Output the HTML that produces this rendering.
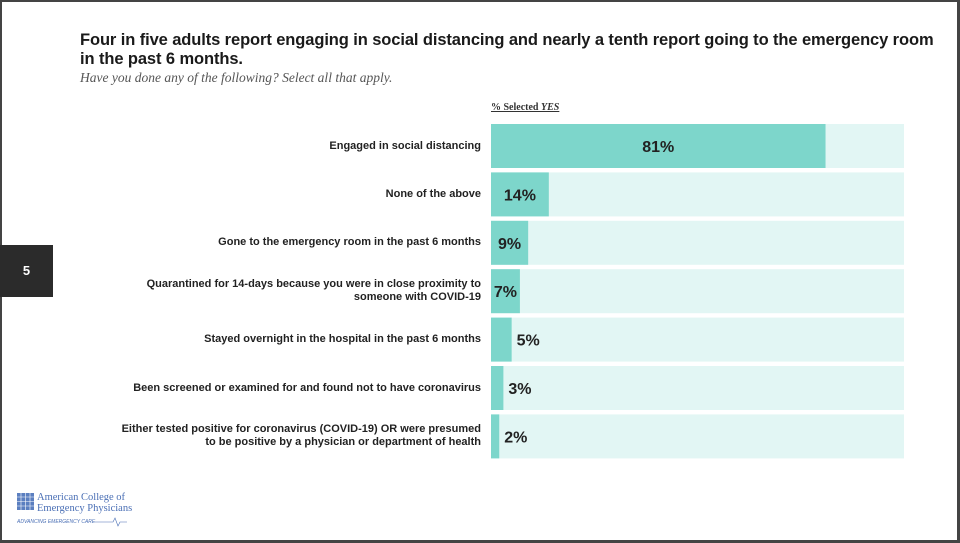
<!DOCTYPE html>
<html><head><meta charset="utf-8"><style>
body{margin:0;width:960px;height:543px;overflow:hidden;background:#fff;font-family:"Liberation Sans",Arial,sans-serif}
#frame{position:absolute;left:0;top:0;width:960px;height:543px;box-sizing:border-box;border:2px solid #444;border-right-width:3px;border-bottom-width:3px}
#title{position:absolute;left:80px;top:31px;width:870px;font-size:16.5px;font-weight:bold;line-height:19px;color:#1a1a1a;letter-spacing:-0.1px}
#sub{position:absolute;left:80px;top:70px;font-family:"Liberation Serif",serif;font-style:italic;font-size:13.5px;color:#555}
#hdr{position:absolute;left:491px;top:102px;font-family:"Liberation Serif",serif;font-weight:bold;font-size:10px;color:#333;text-decoration:underline}
#page{position:absolute;left:0;top:245px;width:53px;height:52px;background:#2b2b2b;color:#fff;font-weight:bold;font-size:13px;text-align:center;line-height:52px}
.lbl{position:absolute;right:479px;font-size:11px;font-weight:bold;color:#222;text-align:right;line-height:13px}
#logo{position:absolute;left:17px;top:489px}
</style></head><body>
<div id="frame"></div>
<div id="title">Four in five adults report engaging in social distancing and nearly a tenth report going to the emergency room in the past 6 months.</div>
<div id="sub">Have you done any of the following? Select all that apply.</div>
<div id="hdr">% Selected <i>YES</i></div>
<div id="page">5</div>
<div id="labels"></div>
<svg id="chart" width="960" height="543" style="position:absolute;left:0;top:0"></svg>
<div id="logo">
<svg width="130" height="42">
<rect x="0" y="4" width="17" height="17" fill="#5b7fc0"/>
<g stroke="#fff" stroke-width="0.6"><line x1="0" y1="8" x2="17" y2="8"/><line x1="0" y1="12.5" x2="17" y2="12.5"/><line x1="0" y1="17" x2="17" y2="17"/><line x1="4" y1="4" x2="4" y2="21"/><line x1="8.5" y1="4" x2="8.5" y2="21"/><line x1="13" y1="4" x2="13" y2="21"/></g>
<text x="20" y="11" font-family="Liberation Serif,serif" font-size="10.5" fill="#4a6fb5">American College of</text>
<text x="20" y="22" font-family="Liberation Serif,serif" font-size="10.5" fill="#4a6fb5">Emergency Physicians</text>
<text x="0" y="34" font-family="Liberation Sans,sans-serif" font-size="5" font-style="italic" fill="#4a6fb5">ADVANCING EMERGENCY CARE</text>
<polyline points="78,33 96,33 98,29 101,37 103,33 110,33" fill="none" stroke="#4a6fb5" stroke-width="0.6"/>
</svg></div>
<script>
const categories=["Engaged in social distancing","None of the above","Gone to the emergency room in the past 6 months","Quarantined for 14-days","Stayed overnight in the hospital in the past 6 months","Been screened or examined for and found not to have coronavirus","Either tested positive"];
const labelLines=[["Engaged in social distancing"],["None of the above"],["Gone to the emergency room in the past 6 months"],["Quarantined for 14-days because you were in close proximity to","someone with COVID-19"],["Stayed overnight in the hospital in the past 6 months"],["Been screened or examined for and found not to have coronavirus"],["Either tested positive for coronavirus (COVID-19) OR were presumed","to be positive by a physician or department of health"]];
const values=[81,14,9,7,5,3,2];
const x0=491,x1=904,yTop=124,pitch=48.4,bh=44;
const xs=v=>x0+(x1-x0)*v/100;
const ys=i=>yTop+i*pitch;
const svg=document.getElementById('chart'),NS='http://www.w3.org/2000/svg';
const lab=document.getElementById('labels');
values.forEach((v,i)=>{
  const bg=document.createElementNS(NS,'rect');
  
  
  bg.setAttribute('x',x0);bg.setAttribute('y',ys(i));bg.setAttribute('width',x1-x0);bg.setAttribute('height',bh);bg.setAttribute('fill','#e2f6f4');svg.appendChild(bg);
  const r=document.createElementNS(NS,'rect');
  
  
  r.setAttribute('x',x0);r.setAttribute('y',ys(i));r.setAttribute('width',xs(v)-x0);r.setAttribute('height',bh);r.setAttribute('fill','#7dd6cb');svg.appendChild(r);
  const t=document.createElementNS(NS,'text');
  
  
  const w=xs(v)-x0;
  if(w>26){t.setAttribute('x',x0+w/2);t.setAttribute('text-anchor','middle');}
  else{t.setAttribute('x',xs(v)+5);}
  t.setAttribute('y',ys(i)+bh/2+6);t.setAttribute('font-size','16');t.setAttribute('font-weight','bold');t.setAttribute('fill','#222');t.setAttribute('font-family','Liberation Sans,Arial,sans-serif');
  t.textContent=v+'%';svg.appendChild(t);
  const d=document.createElement('div');
  
  
  d.className='lbl';
  d.innerHTML=labelLines[i].join('<br>');
  const n=labelLines[i].length;
  d.style.top=(ys(i)+bh/2-n*13/2)+'px';
  lab.appendChild(d);
});
</script>
</body></html>
